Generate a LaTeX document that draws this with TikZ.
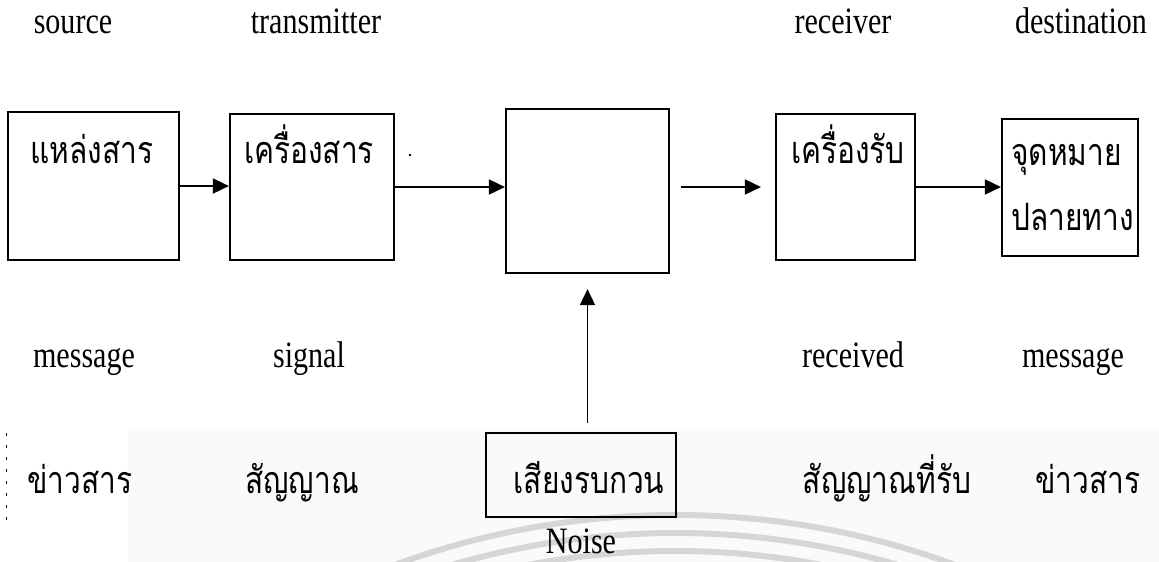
\documentclass[tikz,border=0pt]{standalone}
\usepackage{graphicx}
\usepackage{fontspec}
\setmainfont{Liberation Serif}
\newfontfamily\thaifont[Script=Thai]{Loma}
\newcommand{\vsL}[1]{\scalebox{0.97}[1.2]{#1}}
\newcommand{\vsT}[1]{\scalebox{1.03}[1.3]{#1}}
\usetikzlibrary{arrows.meta}
\begin{document}
\begin{tikzpicture}[x=1pt,y=-1pt,
  box/.style={draw,line width=2.2pt,inner sep=0pt},
  arr/.style={line width=1.7pt,-{Triangle[length=16pt,width=15pt]}},
  lat/.style={font=\fontsize{31}{36}\selectfont,anchor=base,inner sep=0pt},
  th/.style={font=\thaifont\fontsize{29}{34}\selectfont,anchor=base,inner sep=0pt},
  thl/.style={th,anchor=base west}]
\useasboundingbox (0,0) rectangle (1159,562);
% faint band and watermark arcs
\fill[black!2] (128,428) rectangle (1159,562);
\begin{scope}
\clip (0,0) rectangle (1159,562);
\draw[black!16,line width=6pt] (675,1322) circle[radius=807];
\draw[black!16,line width=6pt] (675,1322) circle[radius=789];
\draw[black!16,line width=6pt] (675,1322) circle[radius=771];
\end{scope}
% boxes
\node[box,minimum width=171pt,minimum height=148pt] (b1) at (93.4,186) {};
\node[box,minimum width=164pt,minimum height=146pt] (b2) at (312,187) {};
\node[box,minimum width=163pt,minimum height=164pt] (b3) at (587.5,191) {};
\node[box,minimum width=139pt,minimum height=146pt] (b4) at (845.5,187) {};
\node[box,minimum width=136pt,minimum height=137pt] (b5) at (1070,187.5) {};
\node[box,minimum width=190pt,minimum height=84pt] (nb) at (581,475) {};
% box texts
\node[th] (t1) at (92,163) {\vsT{แหล่งสาร}};
\node[th] (t2) at (309,163) {\vsT{เครื่องสาร}};
\node[th] (t4) at (848,163) {\vsT{เครื่องรับ}};
\node[thl] (t5a) at (1011,165) {\vsT{จุดหมาย}};
\node[thl] (t5b) at (1011,230) {\vsT{ปลายทาง}};
% connectors
\draw[arr] (b1.east) -- (b1.east -| b2.west);
\draw[arr] (b2.east) -- (b2.east -| b3.west);
\coordinate (a3s) at ([xshift=11pt]b3.east |- b4.west);
\coordinate (a3e) at ([xshift=-14pt]b4.west);
\draw[arr] (a3s) -- (a3e);
\draw[arr] (b4.east) -- (b4.east -| b5.west);
\coordinate (nt) at ([yshift=9pt]nb.north);
\coordinate (bt) at ([yshift=-15pt]b3.south);
\draw[arr] (nt -| bt) -- (bt);
% stray marks
\fill (410,155) circle[radius=1.3pt];
\draw[line width=1pt,dash pattern=on 3pt off 9pt] (6,433) -- (6,523);
% header labels
\node[lat] (l1) at (73,33) {\vsL{source}};
\node[lat] (l2) at (316,33) {\vsL{transmitter}};
\node[lat] (l3) at (843,33) {\vsL{receiver}};
\node[lat] (l4) at (1081,33) {\vsL{destination}};
% middle labels
\node[lat] (m1) at (84,367) {\vsL{message}};
\node[lat] (m2) at (309,367) {\vsL{signal}};
\node[lat] (m3) at (853,367) {\vsL{received}};
\node[lat] (m4) at (1073,367) {\vsL{message}};
% thai row
\node[th] (r1) at (80,493) {\vsT{ข่าวสาร}};
\node[th] (r2) at (302,493) {\vsT{สัญญาณ}};
\node[th] (r3) at (589,493) {\vsT{เสียงรบกวน}};
\node[th] (r4) at (887,493) {\vsT{สัญญาณที่รับ}};
\node[th] (r5) at (1088,493) {\vsT{ข่าวสาร}};
\node[lat] (nz) at (581,553) {\vsL{Noise}};
\end{tikzpicture}
\end{document}
